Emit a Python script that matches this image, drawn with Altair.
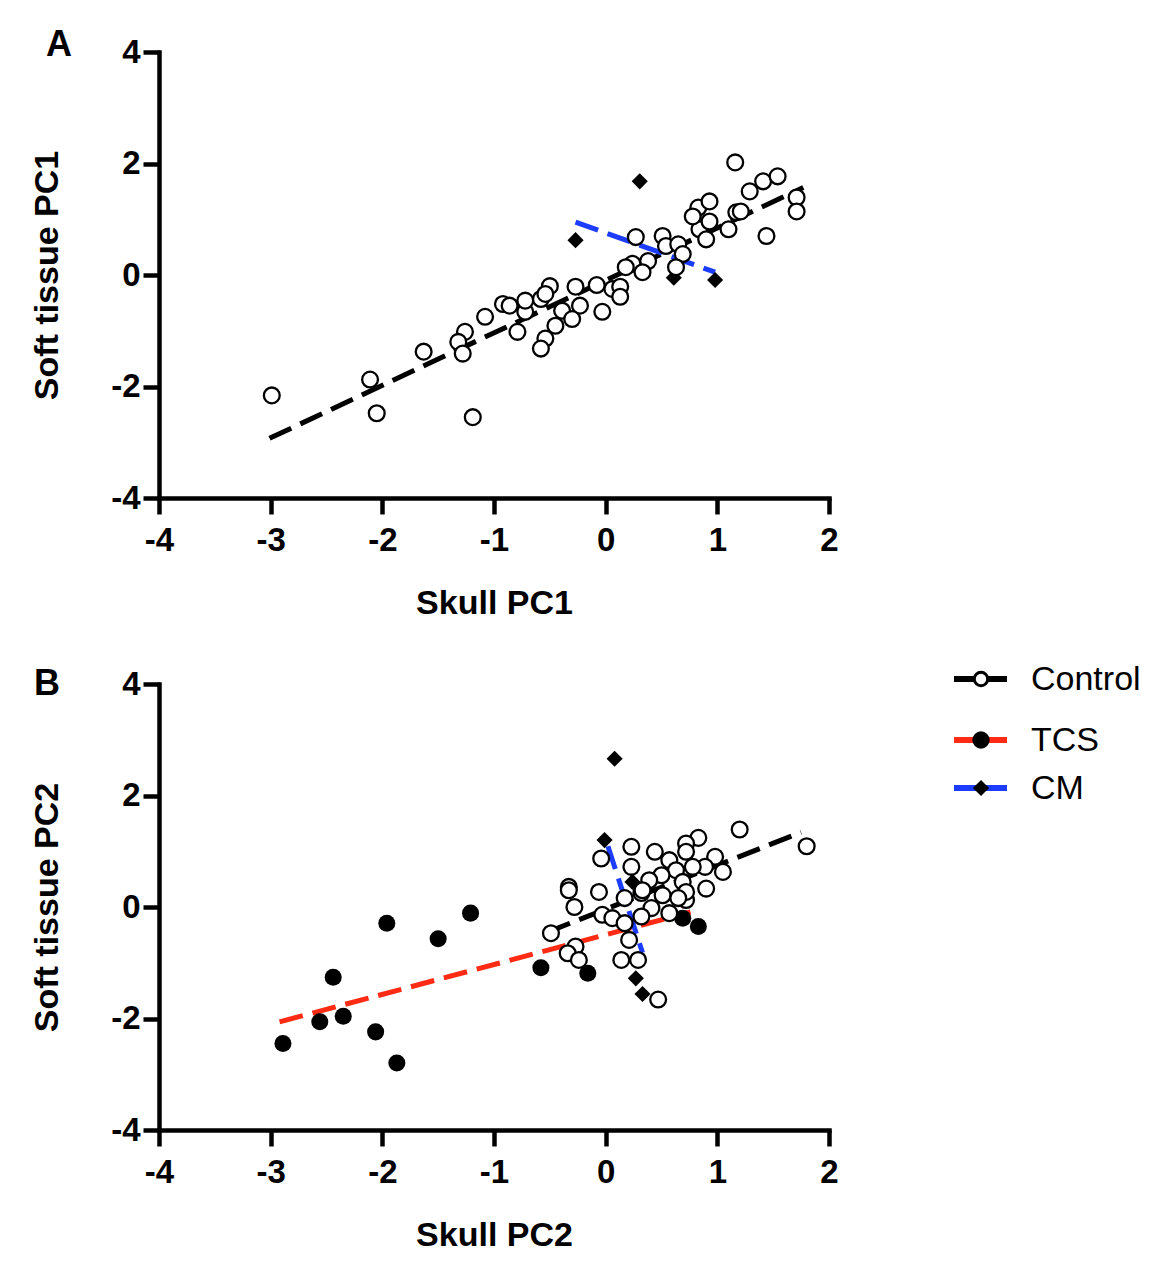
import altair as alt
import pandas as pd

FONT = "Liberation Sans"
RED = "#ff2b14"
BLUE = "#1c3cff"

# ---------------- Panel A data ----------------
ctrlA_x = [-2.99, -2.11, -2.05, -1.63, -1.19, -1.26, -1.32, -1.28, -1.08, -0.92,
           -0.86, -0.79, -0.72, -0.72, -0.58, -0.50, -0.54, -0.39, -0.27, -0.23,
           -0.30, -0.45, -0.54, -0.58, -0.08, -0.03, 0.27, 0.51, 0.54, 0.65,
           0.69, 0.38, 0.24, 0.18, 0.63, 0.06, 0.13, 0.13, 0.84, 0.90,
           0.93, 1.16, 0.83, 0.93, 0.78, 1.10, 1.17, 1.21, 1.29, 1.41,
           1.54, 1.71, 1.71, 1.44, 0.33]
ctrlA_y = [-2.16, -1.875, -2.48, -1.375, -2.55, -1.02, -1.20, -1.41, -0.75, -0.52,
           -0.55, -1.02, -0.66, -0.46, -0.43, -0.20, -0.34, -0.64, -0.21, -0.55,
           -0.79, -0.91, -1.14, -1.32, -0.18, -0.66, 0.68, 0.70, 0.52, 0.55,
           0.375, 0.25, 0.20, 0.14, 0.14, -0.25, -0.21, -0.39, 0.82, 0.64,
           0.96, 2.02, 1.21, 1.32, 1.05, 0.82, 1.125, 1.14, 1.50, 1.68,
           1.77, 1.39, 1.14, 0.70, 0.05]
cmA_x = [-0.27, 0.305, 0.61, 0.98]
cmA_y = [0.625, 1.68, -0.05, -0.09]
fitA_ctrl_x = [-3.01, 1.77]
fitA_ctrl_y = [-2.93, 1.57]
fitA_cm_x = [-0.27, 0.98]
fitA_cm_y = [0.95, 0.05]

# ---------------- Panel B data ----------------
ctrlB_x = [1.20, 1.80, 0.83, 0.72, 0.23, 0.44, 0.57, 0.72, 0.98, 1.05,
           0.89, 0.78, 0.63, 0.50, 0.39, 0.23, -0.04, -0.06, -0.33, -0.33,
           -0.28, -0.49, -0.03, 0.17, 0.32, 0.51, 0.69, 0.90, 0.72, 0.41,
           0.57, 0.06, 0.17, 0.21, 0.32, -0.27, -0.34, -0.24, 0.14, 0.29,
           0.47, 0.72, 0.65, 0.33]
ctrlB_y = [1.39, 1.09, 1.24, 1.14, 1.08, 0.99, 0.84, 0.99, 0.90, 0.63,
           0.72, 0.72, 0.66, 0.57, 0.48, 0.72, 0.87, 0.27, 0.36, 0.30,
           0.00, -0.47, -0.14, 0.16, 0.25, 0.21, 0.45, 0.33, 0.125, -0.02,
           -0.11, -0.20, -0.29, -0.59, -0.17, -0.71, -0.83, -0.95, -0.95, -0.95,
           -1.66, 0.27, 0.16, 0.30]
tcsB_x = [-1.21, -1.96, -1.50, -2.44, -2.56, -2.35, -2.89, -2.06, -1.87, -0.58,
          -0.16, 0.69, 0.83]
tcsB_y = [-0.11, -0.29, -0.57, -1.26, -2.06, -1.96, -2.45, -2.24, -2.80, -1.09,
          -1.19, -0.20, -0.35]
cmB_x = [0.08, -0.01, 0.24, 0.27, 0.33]
cmB_y = [2.66, 1.20, 0.45, -1.28, -1.56]
fitB_ctrl_x = [-0.52, 1.75]
fitB_ctrl_y = [-0.45, 1.34]
fitB_tcs_x = [-2.92, 0.76]
fitB_tcs_y = [-2.06, -0.09]
fitB_cm_x = [0.02, 0.33]
fitB_cm_y = [1.09, -0.82]

x_ticks = [-4, -3, -2, -1, 0, 1, 2]
y_ticks = [-4, -2, 0, 2, 4]
legend_names = ["Control", "TCS", "CM"]

W, H = 670, 446


def df(xs, ys):
    return pd.DataFrame({"x": xs, "y": ys})


def enc(xtitle, ytitle):
    return dict(
        x=alt.X("x:Q", scale=alt.Scale(domain=[-4, 2], nice=False, zero=False),
                axis=alt.Axis(values=x_ticks, title=xtitle, labelFlush=False,
                              labelExpr="datum.value + ''")),
        y=alt.Y("y:Q", scale=alt.Scale(domain=[-4, 4], nice=False, zero=False),
                axis=alt.Axis(values=y_ticks, title=ytitle, labelFlush=False,
                              labelExpr="datum.value + ''")),
    )


def fit_line(xs, ys, color, xtitle, ytitle):
    return alt.Chart(df(xs, ys)).mark_line(
        color=color, strokeWidth=5, strokeDash=[24, 10]
    ).encode(**enc(xtitle, ytitle))


def ctrl_pts(xs, ys, xtitle, ytitle):
    return alt.Chart(df(xs, ys)).mark_point(
        shape="circle", filled=True, fill="white", stroke="black",
        strokeWidth=2.3, size=250, opacity=1
    ).encode(**enc(xtitle, ytitle))


def tcs_pts(xs, ys, xtitle, ytitle):
    return alt.Chart(df(xs, ys)).mark_point(
        shape="circle", filled=True, color="black", size=290, opacity=1
    ).encode(**enc(xtitle, ytitle))


def cm_pts(xs, ys, xtitle, ytitle):
    return alt.Chart(df(xs, ys)).mark_point(
        shape="diamond", filled=True, color="black", size=260, opacity=1
    ).encode(**enc(xtitle, ytitle))


def letter(t, dx, dy):
    return alt.Chart(pd.DataFrame({"t": [t]})).mark_text(
        font=FONT, fontSize=36, fontWeight="bold", align="center",
        baseline="middle", color="black"
    ).encode(text="t:N", x=alt.value(dx), y=alt.value(dy))


# ---------------- Panel A ----------------
xa, ya = "Skull PC1", "Soft tissue PC1"
panelA = alt.layer(
    fit_line(fitA_ctrl_x, fitA_ctrl_y, "black", xa, ya),
    fit_line(fitA_cm_x, fitA_cm_y, BLUE, xa, ya),
    cm_pts(cmA_x, cmA_y, xa, ya),
    ctrl_pts(ctrlA_x, ctrlA_y, xa, ya),
    letter("A", -100, -7),
).properties(width=W, height=H)

# ---------------- Panel B ----------------
xb, yb = "Skull PC2", "Soft tissue PC2"

legend_layers = []
leg_y = [-5, 56, 104]
leg_line_color = ["black", RED, BLUE]
for i, name in enumerate(legend_names):
    one = pd.DataFrame({"t": [name]})
    legend_layers.append(
        alt.Chart(one).mark_rule(color=leg_line_color[i], strokeWidth=6).encode(
            x=alt.value(795), x2=alt.value(848), y=alt.value(leg_y[i]))
    )
    if i == 0:
        mk = alt.Chart(one).mark_point(shape="circle", filled=True, fill="white",
                                       stroke="black", strokeWidth=3, size=180, opacity=1)
    elif i == 1:
        mk = alt.Chart(one).mark_point(shape="circle", filled=True, color="black",
                                       size=300, opacity=1)
    else:
        mk = alt.Chart(one).mark_point(shape="diamond", filled=True, color="black",
                                       size=260, opacity=1)
    legend_layers.append(mk.encode(x=alt.value(822), y=alt.value(leg_y[i])))
    legend_layers.append(
        alt.Chart(one).mark_text(font=FONT, fontSize=34, align="left",
                                 baseline="middle", color="black").encode(
            text="t:N", x=alt.value(872), y=alt.value(leg_y[i] + 1))
    )

panelB = alt.layer(
    fit_line(fitB_ctrl_x, fitB_ctrl_y, "black", xb, yb),
    fit_line(fitB_tcs_x, fitB_tcs_y, RED, xb, yb),
    fit_line(fitB_cm_x, fitB_cm_y, BLUE, xb, yb),
    tcs_pts(tcsB_x, tcsB_y, xb, yb),
    cm_pts(cmB_x, cmB_y, xb, yb),
    ctrl_pts(ctrlB_x, ctrlB_y, xb, yb),
    letter("B", -112, 0),
    *legend_layers,
).properties(width=W, height=H)

chart = alt.vconcat(panelA, panelB, spacing=43).properties(
    padding={"left": 30, "top": 27, "right": 5, "bottom": 5},
    background="white",
).configure_view(stroke=None).configure_axis(
    grid=False,
    domainColor="black", domainWidth=4.5, domainCap="square",
    tickColor="black", tickWidth=4.5, tickSize=16,
    labelFont=FONT, labelFontSize=33, labelFontWeight="bold", labelColor="black",
    labelPadding=10,
    titleFont=FONT, titleFontSize=34, titleFontWeight="bold", titleColor="black",
).configure_axisY(labelPadding=3, titlePadding=46).configure_axisX(titlePadding=29)

chart.save("out.html", embed_options={"renderer": "svg", "actions": False})
